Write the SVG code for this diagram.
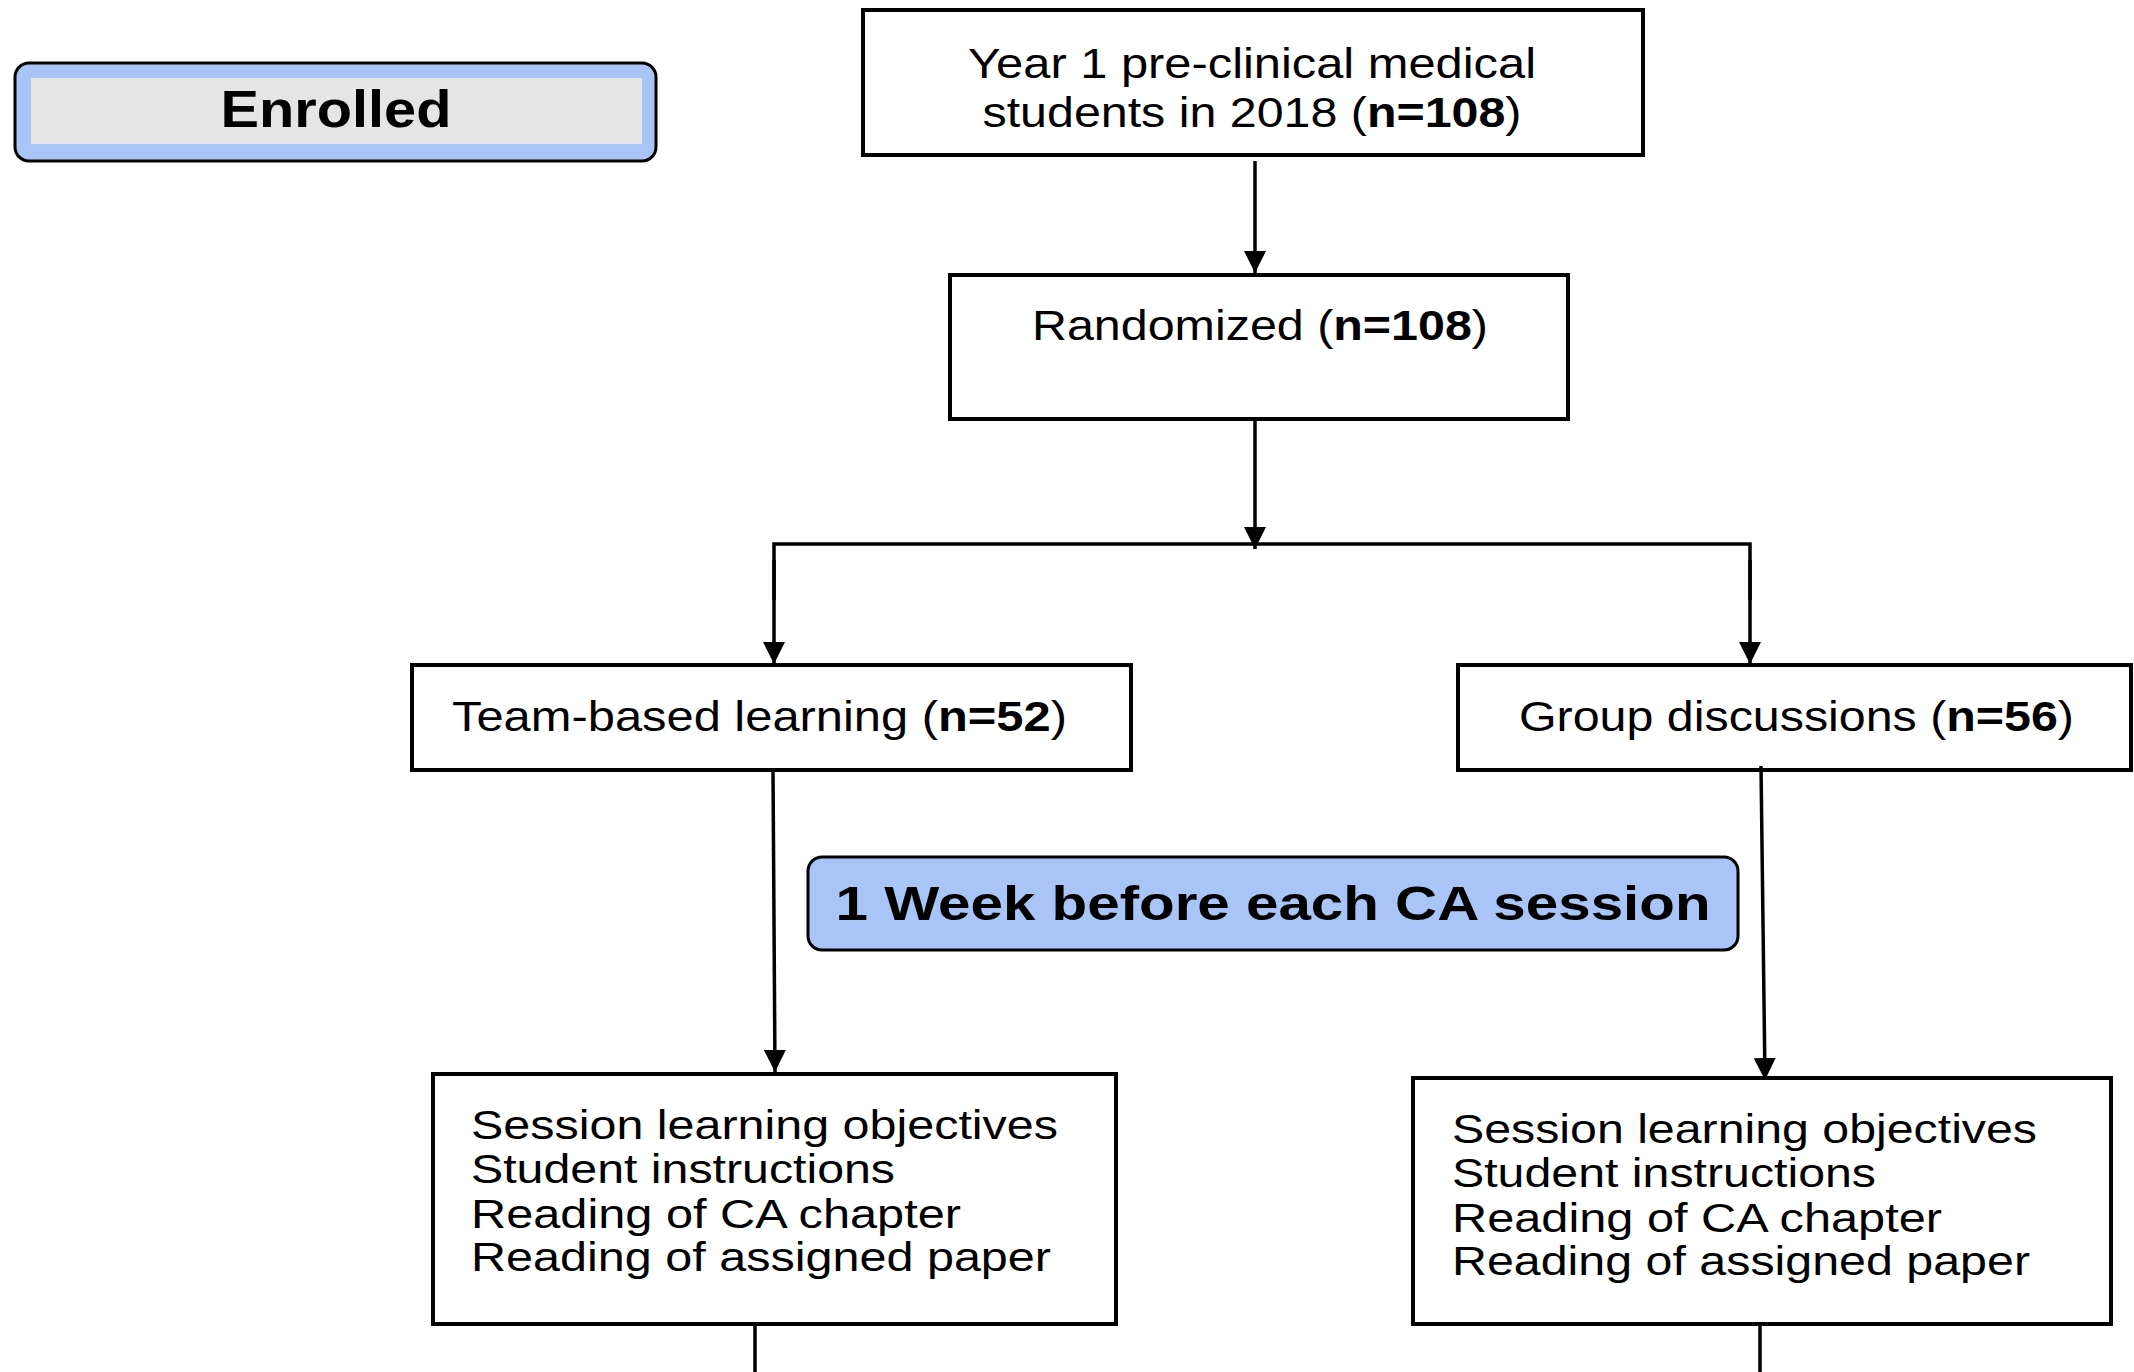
<svg xmlns="http://www.w3.org/2000/svg" width="2134" height="1372" viewBox="0 0 2134 1372">
<style>
.box{fill:#fff;stroke:#000;stroke-width:4}
.t{font-family:"Liberation Sans",Arial,sans-serif;fill:#000}
.b{font-weight:bold}
.con{fill:none;stroke:#000;stroke-width:3.5}
.blue{fill:#A9C5F8;stroke:#000;stroke-width:3}
</style>
<defs>
<marker id="arr" markerWidth="24" markerHeight="22" refX="22" refY="11" orient="auto" markerUnits="userSpaceOnUse">
<path d="M0,0 L22,11 L0,22 z" fill="#000"/>
</marker>
</defs>
<rect width="2134" height="1372" fill="#fff"/>

<g id="enrolled">
<rect x="15" y="63" width="641" height="98" rx="14" class="blue"/>
<rect x="31" y="78" width="611" height="66" fill="#E5E5E5"/>
<text class="t b" x="336" y="127" font-size="52" text-anchor="middle" textLength="231" lengthAdjust="spacingAndGlyphs">Enrolled</text>
</g>

<g id="year1">
<rect x="863" y="10" width="780" height="145" class="box"/>
<text class="t" x="1252" y="78" font-size="43" text-anchor="middle" textLength="568" lengthAdjust="spacingAndGlyphs">Year 1 pre-clinical medical</text>
<text class="t" x="1252" y="127" font-size="43" text-anchor="middle" textLength="539" lengthAdjust="spacingAndGlyphs">students in 2018 (<tspan class="b">n=108</tspan>)</text>
</g>

<g id="randomized">
<rect x="950" y="275" width="618" height="144" class="box"/>
<text class="t" x="1260" y="340" font-size="43" text-anchor="middle" textLength="456" lengthAdjust="spacingAndGlyphs">Randomized (<tspan class="b">n=108</tspan>)</text>
</g>

<g id="tbl">
<rect x="412" y="665" width="719" height="105" class="box"/>
<text class="t" x="452" y="731" font-size="43" textLength="615" lengthAdjust="spacingAndGlyphs">Team-based learning (<tspan class="b">n=52</tspan>)</text>
</g>

<g id="gd">
<rect x="1458" y="665" width="673" height="105" class="box"/>
<text class="t" x="1519" y="731" font-size="43" textLength="555" lengthAdjust="spacingAndGlyphs">Group discussions (<tspan class="b">n=56</tspan>)</text>
</g>

<g id="week">
<rect x="808" y="857" width="930" height="93" rx="14" class="blue"/>
<text class="t b" x="1273" y="920" font-size="49" text-anchor="middle" textLength="875" lengthAdjust="spacingAndGlyphs">1 Week before each CA session</text>
</g>

<g id="tbl-prep">
<rect x="433" y="1074" width="683" height="250" class="box"/>
<text class="t" x="471" y="1139" font-size="41" textLength="587" lengthAdjust="spacingAndGlyphs">Session learning objectives</text>
<text class="t" x="471" y="1183" font-size="41" textLength="424" lengthAdjust="spacingAndGlyphs">Student instructions</text>
<text class="t" x="471" y="1228" font-size="41" textLength="490" lengthAdjust="spacingAndGlyphs">Reading of CA chapter</text>
<text class="t" x="471" y="1271" font-size="41" textLength="580" lengthAdjust="spacingAndGlyphs">Reading of assigned paper</text>
</g>

<g id="gd-prep">
<rect x="1413" y="1078" width="698" height="246" class="box"/>
<text class="t" x="1452" y="1143" font-size="41" textLength="585" lengthAdjust="spacingAndGlyphs">Session learning objectives</text>
<text class="t" x="1452" y="1187" font-size="41" textLength="424" lengthAdjust="spacingAndGlyphs">Student instructions</text>
<text class="t" x="1452" y="1232" font-size="41" textLength="490" lengthAdjust="spacingAndGlyphs">Reading of CA chapter</text>
<text class="t" x="1452" y="1275" font-size="41" textLength="578" lengthAdjust="spacingAndGlyphs">Reading of assigned paper</text>
</g>

<g id="connectors">
<line x1="1255" y1="161" x2="1255" y2="273" class="con" marker-end="url(#arr)"/>
<line x1="1255" y1="419" x2="1255" y2="549" class="con" marker-end="url(#arr)"/>
<polyline points="774,600 774,544 1750,544 1750,600" class="con"/>
<line x1="774" y1="560" x2="774" y2="664" class="con" marker-end="url(#arr)"/>
<line x1="1750" y1="560" x2="1750" y2="664" class="con" marker-end="url(#arr)"/>
<line x1="773" y1="770" x2="775" y2="1072" class="con" marker-end="url(#arr)"/>
<line x1="1761" y1="766" x2="1765" y2="1080" class="con" marker-end="url(#arr)"/>
<line x1="755" y1="1324" x2="755" y2="1372" class="con"/>
<line x1="1760" y1="1324" x2="1760" y2="1372" class="con"/>
</g>
</svg>
